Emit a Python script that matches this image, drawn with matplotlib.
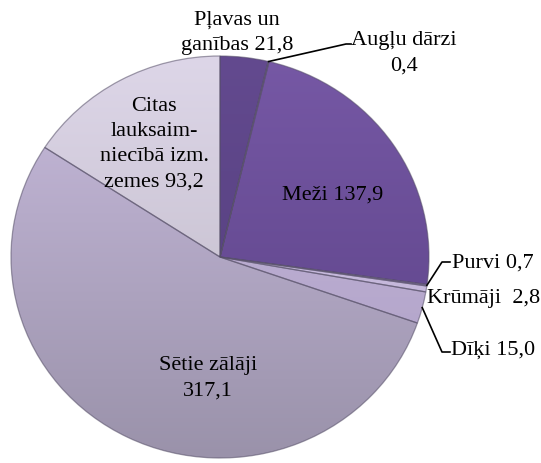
import numpy as np
import matplotlib
matplotlib.use('Agg')
import matplotlib.pyplot as plt
from matplotlib.colors import to_rgb

# ---- data ----
labels = ['Pļavas un\nganības 21,8', 'Augļu dārzi\n0,4', 'Meži 137,9', 'Purvi 0,7',
          'Krūmāji  2,8', 'Dīķi 15,0', 'Sētie zālāji\n317,1',
          'Citas\nlauksaim-\nniecībā izm.\nzemes 93,2']
values = [21.8, 0.4, 137.9, 0.7, 2.8, 15.0, 317.1, 93.2]

top_colors = ['#634a8f', '#6c509a', '#7658a5', '#9c88c2', '#d2c6e8', '#c6b8dc', '#c8bbdd', '#ddd6e8']
bottom_colors = ['#513c7a', '#5a4086', '#5a4185', '#8a76ae', '#bcaed2', '#ad9fc4', '#9a92aa', '#bdb7c4']

W, H = 541, 464
fig = plt.figure(figsize=(W / 100, H / 100), dpi=100)
L, R, T, B = 11, 429, 57, 459
ax = fig.add_axes([L / W, (H - B) / H, (R - L) / W, (B - T) / H])

wedges, _ = ax.pie(values, startangle=90, counterclock=False, radius=1,
                   colors=top_colors,
                   wedgeprops=dict(linewidth=0.9, edgecolor=(0.33, 0.30, 0.40, 0.55)))
ax.set_aspect('auto')

# gradient fill clipped to each wedge
n = 256
for w, ct, cb in zip(wedges, top_colors, bottom_colors):
    t = np.linspace(0, 1, n)[:, None]
    a, b = np.array(to_rgb(ct)), np.array(to_rgb(cb))
    img = (a[None, :] * (1 - t) + b[None, :] * t)[:, None, :]
    im = ax.imshow(img, extent=(-1, 1, -1, 1), aspect='auto', zorder=1, origin='upper')
    im.set_clip_path(w)
    w.set_facecolor('none')
    w.set_zorder(2)
ax.set_xlim(-1, 1)
ax.set_ylim(-1, 1)
ax.axis('off')

font = dict(family='Liberation Serif', fontsize=16, color='black', linespacing=1.45)

def fp(px, py):
    return (px / W, 1 - py / H)

def edge_point(w):
    th = np.deg2rad((w.theta1 + w.theta2) / 2)
    return (np.cos(th), np.sin(th))

# labels
fig.text(*fp(237, 33), labels[0], ha='center', va='center', **font)
fig.text(*fp(404, 53), labels[1], ha='center', va='center', **font)
fig.text(*fp(333, 195), labels[2], ha='center', va='center', **font)
fig.text(*fp(452, 263), labels[3], ha='left', va='center', **font)
fig.text(*fp(427, 299), labels[4], ha='left', va='center', **font)
fig.text(*fp(451, 350), labels[5], ha='left', va='center', **font)
fig.text(*fp(208, 378), labels[6], ha='center', va='center', **font)
fig.text(*fp(154, 144), labels[7], ha='center', va='center', **font)

# leader lines
inv = ax.transData.inverted()
def to_data(px, py):
    disp = fig.transFigure.transform(fp(px, py))
    return inv.transform(disp)

def leader(w, pts):
    x0, y0 = edge_point(w)
    xs, ys = [x0], [y0]
    for p in pts:
        d = to_data(*p)
        xs.append(d[0]); ys.append(d[1])
    ax.plot(xs, ys, color='black', lw=1.2, clip_on=False, zorder=5)

leader(wedges[1], [(346, 45), (351, 45)])
leader(wedges[3], [(442, 263), (450, 263)])
leader(wedges[5], [(442, 353), (450, 353)])

fig.savefig('out.png', dpi=100)
